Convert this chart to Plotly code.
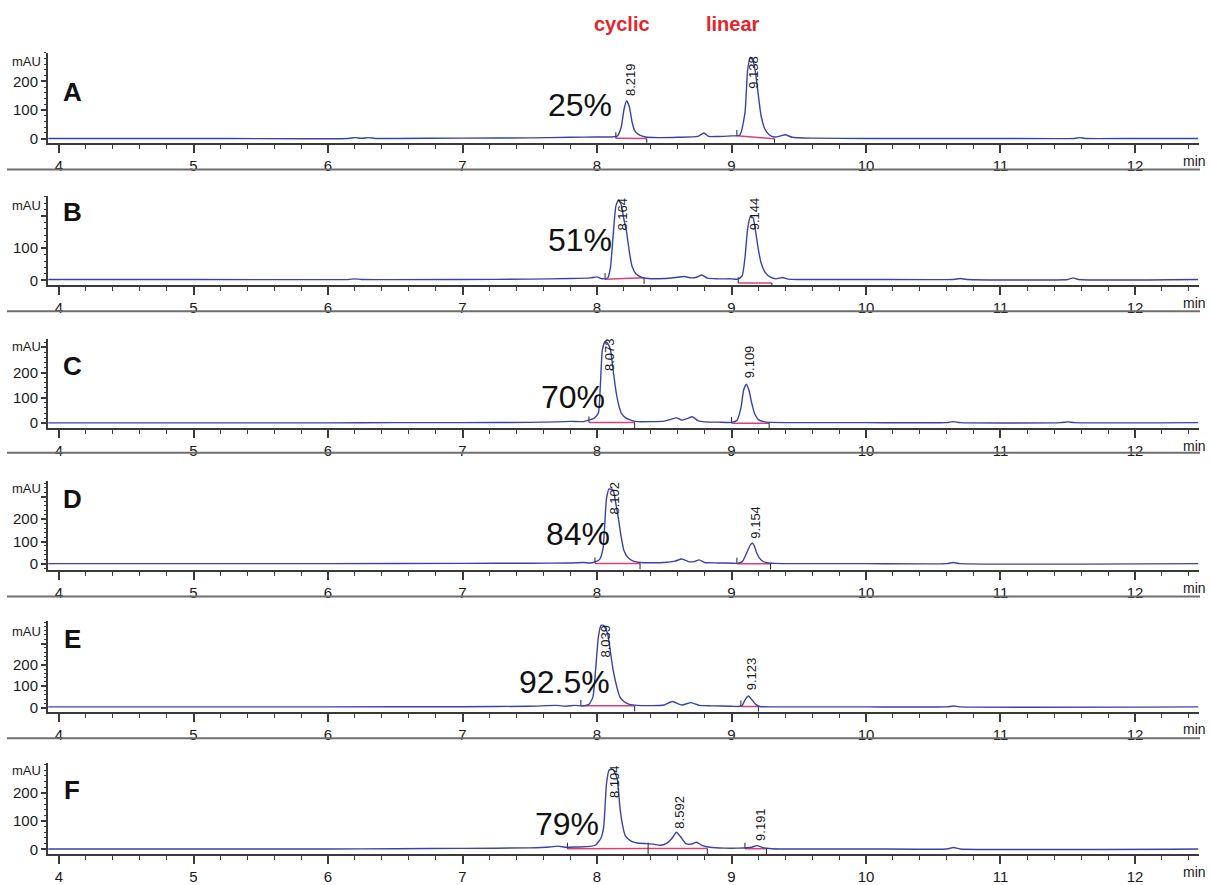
import plotly.graph_objects as go

W, H = 1210, 885
FONT = "Liberation Sans, Arial, sans-serif"

# ---------------- data (retention time in min, absorbance in mAU) ----------------
A_t = [3.92, 5.0, 6.15, 6.2, 6.25, 6.3, 6.35, 6.5, 7.0, 7.5, 7.8, 8.0, 8.10, 8.15, 8.18, 8.20, 8.22, 8.24, 8.26, 8.28,
       8.31, 8.36, 8.45, 8.6, 8.75, 8.795, 8.83, 8.9, 9.0, 9.06, 9.10, 9.12, 9.14, 9.16, 9.18, 9.20, 9.22, 9.25, 9.28, 9.32,
       9.36, 9.40, 9.45, 9.6, 10.0, 11.0, 11.55, 11.59, 11.63, 12.0, 12.47]
A_v = [1, 1, 1, 4, 1.5, 4, 1, 1, 2, 3, 5, 6, 6, 9, 40, 100, 132, 112, 60, 28,
       14, 6, 4, 5, 8, 20, 8, 8, 10, 12, 90, 240, 284, 272, 225, 150, 80, 32, 14, 6,
       9, 14, 5, 2, 1, 1, 1, 4, 1, 1, 1]

B_t = [3.92, 5.0, 6.15, 6.2, 6.25, 7.0, 7.5, 7.8, 7.95, 8.0, 8.03, 8.06, 8.08, 8.10, 8.12, 8.14, 8.16, 8.18, 8.20, 8.22,
       8.24, 8.26, 8.29, 8.33, 8.38, 8.5, 8.6, 8.65, 8.7, 8.74, 8.78, 8.82, 8.9, 9.0, 9.05, 9.08, 9.10, 9.12, 9.14, 9.16,
       9.18, 9.20, 9.22, 9.25, 9.29, 9.33, 9.38, 9.42, 9.5, 10.0, 10.65, 10.7, 10.75, 11.5, 11.54, 11.58, 12.47]
B_v = [3, 3, 3, 5, 3, 3, 4, 6, 8, 11, 6, 5, 8, 40, 140, 230, 250, 235, 190, 150,
       90, 45, 20, 10, 6, 6, 10, 12, 8, 10, 17, 7, 5, 5, 4, 15, 70, 160, 198, 195,
       150, 95, 55, 25, 10, 5, 9, 4, 3, 3, 3, 6, 3, 3, 8, 3, 3]

C_t = [3.92, 5.0, 6.0, 6.5, 7.0, 7.5, 7.7, 7.8, 7.9, 7.94, 7.98, 8.01, 8.025, 8.04, 8.06, 8.08, 8.10, 8.12, 8.14, 8.16,
       8.18, 8.21, 8.25, 8.30, 8.4, 8.5, 8.55, 8.59, 8.63, 8.67, 8.71, 8.75, 8.8, 8.9, 9.0, 9.04, 9.07, 9.09, 9.11, 9.13,
       9.15, 9.17, 9.20, 9.25, 9.3, 9.5, 10.0, 10.6, 10.65, 10.7, 11.45, 11.5, 11.55, 12.47]
C_v = [1, 1, 1, 2, 2, 3, 5, 7, 6, 12, 20, 40, 150, 290, 322, 315, 290, 210, 130, 75,
       40, 22, 12, 6, 6, 8, 15, 21, 12, 18, 25, 10, 5, 4, 3, 10, 60, 130, 154, 130,
       80, 40, 14, 5, 3, 2, 2, 2, 6, 2, 2, 5, 2, 2]

D_t = [3.92, 5.0, 6.0, 7.0, 7.5, 7.8, 7.9, 7.95, 7.99, 8.02, 8.045, 8.07, 8.09, 8.12, 8.14, 8.16, 8.18, 8.20, 8.23, 8.27,
       8.32, 8.4, 8.5, 8.58, 8.63, 8.68, 8.72, 8.76, 8.8, 8.9, 9.0, 9.04, 9.08, 9.11, 9.14, 9.155, 9.17, 9.19, 9.22, 9.26,
       9.32, 9.5, 10.0, 10.6, 10.65, 10.7, 12.47]
D_v = [1, 1, 1, 2, 3, 4, 6, 4, 10, 20, 70, 290, 336, 330, 270, 200, 120, 60, 28, 12,
       6, 5, 6, 12, 22, 10, 10, 18, 6, 4, 3, 2, 10, 45, 85, 92, 80, 45, 17, 5,
       2, 1, 1, 1, 6, 1, 1]

E_t = [3.92, 5.0, 6.0, 7.0, 7.5, 7.7, 7.77, 7.83, 7.90, 7.94, 7.97, 7.99, 8.01, 8.03, 8.05, 8.08, 8.10, 8.12, 8.15, 8.17,
       8.20, 8.24, 8.30, 8.4, 8.5, 8.56, 8.63, 8.70, 8.76, 8.85, 9.0, 9.05, 9.08, 9.10, 9.125, 9.15, 9.18, 9.21, 9.3, 9.5,
       10.0, 10.6, 10.65, 10.7, 12.47]
E_v = [3, 3, 3, 4, 6, 10, 6, 10, 8, 15, 50, 180, 330, 385, 385, 345, 260, 175, 90, 50,
       28, 15, 10, 9, 12, 28, 12, 23, 10, 8, 6, 5, 10, 35, 54, 38, 15, 5, 3, 3,
       3, 3, 7, 3, 3]

F_t = [3.92, 5.0, 6.0, 6.5, 7.0, 7.5, 7.65, 7.71, 7.77, 7.85, 7.95, 7.99, 8.03, 8.05, 8.07, 8.09, 8.12, 8.15, 8.17, 8.19,
       8.21, 8.25, 8.30, 8.37, 8.42, 8.47, 8.52, 8.56, 8.59, 8.62, 8.66, 8.70, 8.74, 8.78, 8.84, 8.95, 9.05, 9.15, 9.19, 9.23,
       9.3, 9.5, 10.0, 10.6, 10.65, 10.7, 12.47]
F_v = [1, 1, 1, 2, 3, 5, 8, 11, 7, 8, 10, 15, 40, 80, 230, 280, 282, 250, 150, 85,
       48, 30, 22, 20, 18, 14, 22, 40, 60, 45, 20, 18, 25, 14, 7, 4, 4, 7, 13, 6,
       2, 1, 1, 1, 6, 1, 1]

# panel letters and cyclic-product percentages
panel_letters = ["A", "B", "C", "D", "E", "F"]
percent_labels = ["25%", "51%", "70%", "84%", "92.5%", "79%"]

# labelled peaks: retention time labels
A_peaks = ["8.219", "9.138"]
B_peaks = ["8.164", "9.144"]
C_peaks = ["8.073", "9.109"]
D_peaks = ["8.102", "9.154"]
E_peaks = ["8.039", "9.123"]
F_peaks = ["8.104", "8.592", "9.191"]

# integration baselines: (start, end, level at start, level at end)
A_int = [(8.14, 8.37, 2, 1), (9.04, 9.32, 10, 0)]
B_int = [(8.06, 8.35, 4, 8), (9.05, 9.30, -8, -8)]
C_int = [(7.94, 8.28, 3, 3), (9.00, 9.28, 0, 0)]
D_int = [(7.985, 8.32, 2, 2), (9.04, 9.29, 1, 1)]
E_int = [(7.88, 8.28, 8, 8), (9.07, 9.20, 5, 5)]
F_int = [(7.78, 8.38, 2, 3), (8.38, 8.82, 3, 3), (9.10, 9.26, 2, 2)]

x_tick_vals = [4, 5, 6, 7, 8, 9, 10, 11, 12]

# ---------------- layout geometry (pixels) ----------------
X_LEFT, X_RIGHT = 48, 1199
X_RANGE = [3.918, 12.476]
PANEL_PX = [(53, 144), (198, 288), (342, 432), (485, 575), (627, 718), (770, 862)]
Y_RANGES = [[-13.8, 300], [-15.4, 261.5], [-19.6, 333], [-26.7, 373], [-18.6, 404], [-17.5, 305]]
Y_TICKS = [([0, 100, 200], ["0", "100", "200"]),
           ([0, 100, 200], ["0", "100", ""]),
           ([0, 100, 200, 300], ["0", "100", "200", ""]),
           ([0, 100, 200, 300], ["0", "100", "200", ""]),
           ([0, 100, 200, 300], ["0", "100", "200", ""]),
           ([0, 100, 200], ["0", "100", "200"])]
LETTER_Y = [93, 214, 369, 504, 645, 797]
MAU_Y = [62, 207, 350, 493, 637, 778]
SEP_Y = [171, 314, 457, 602, 745]
# percent label positions (data coords) and peak label positions (data coords)
PCT_POS = [(7.874, 117), (7.874, 126), (7.822, 102), (7.859, 133), (7.755, 121), (7.777, 91)]
PEAK_LABEL_Y = [[207, 231], [206, 206], [270, 243], [293, 187], [312, 158], [239, 133, 88]]

BLUE = "#3a42a8"
PINK = "#d9407a"
AXIS = "#3a3a3a"


def px(xp, yp):
    return xp / W, 1 - yp / H


series = [(A_t, A_v, A_peaks, A_int), (B_t, B_v, B_peaks, B_int), (C_t, C_v, C_peaks, C_int),
          (D_t, D_v, D_peaks, D_int), (E_t, E_v, E_peaks, E_int), (F_t, F_v, F_peaks, F_int)]

fig = go.Figure()
annotations = []
shapes = []
layout_axes = {}

for i, (t, v, peaks, ints) in enumerate(series):
    n = i + 1
    xa = "x" if n == 1 else f"x{n}"
    ya = "y" if n == 1 else f"y{n}"
    xkey = "xaxis" if n == 1 else f"xaxis{n}"
    ykey = "yaxis" if n == 1 else f"yaxis{n}"
    top, bot = PANEL_PX[i]
    yr = Y_RANGES[i]
    units_per_px = (yr[1] - yr[0]) / (bot - top)
    mark = 6 * units_per_px

    # integration baselines
    bx, by, mx, my = [], [], [], []
    for (s, e, ls, le) in ints:
        bx += [s, e, None]
        by += [ls, le, None]
        mx += [s, s, None, e, e, None]
        my += [ls, ls + mark, None, le, le - mark, None]
    fig.add_trace(go.Scatter(x=bx, y=by, mode="lines", line=dict(color=PINK, width=1.5),
                             xaxis=xa, yaxis=ya, hoverinfo="skip", showlegend=False))
    fig.add_trace(go.Scatter(x=mx, y=my, mode="lines", line=dict(color="#222222", width=1),
                             xaxis=xa, yaxis=ya, hoverinfo="skip", showlegend=False))
    # chromatogram
    fig.add_trace(go.Scatter(x=t, y=v, mode="lines", line=dict(color=BLUE, width=1.4, shape="spline", smoothing=0.5),
                             xaxis=xa, yaxis=ya, showlegend=False))

    layout_axes[xkey] = dict(domain=[X_LEFT / W, X_RIGHT / W], range=X_RANGE, anchor=ya,
                             showline=True, linecolor=AXIS, linewidth=2, showgrid=False, zeroline=False,
                             ticks="outside", ticklen=8, tickwidth=1.5, tickcolor=AXIS,
                             tickmode="array", tickvals=x_tick_vals,
                             minor=dict(dtick=0.2, tick0=0, ticks="outside", ticklen=4, tickwidth=1.2, tickcolor=AXIS),
                             tickfont=dict(family=FONT, size=15, color="#1a1a1a"), fixedrange=True)
    tv, tt = Y_TICKS[i]
    layout_axes[ykey] = dict(domain=[1 - bot / H, 1 - top / H], range=yr, anchor=xa,
                             showline=True, linecolor=AXIS, linewidth=2, showgrid=False, zeroline=False,
                             ticks="outside", ticklen=5, tickwidth=1.5, tickcolor=AXIS,
                             tickmode="array", tickvals=tv, ticktext=tt,
                             minor=dict(dtick=20, tick0=0, ticks="outside", ticklen=2.5, tickwidth=1, tickcolor=AXIS),
                             tickfont=dict(family=FONT, size=15, color="#1a1a1a"), fixedrange=True)

    # panel letter
    lx, ly = px(72, LETTER_Y[i])
    annotations.append(dict(x=lx, y=ly, xref="paper", yref="paper", text=f"<b>{panel_letters[i]}</b>",
                            showarrow=False, xanchor="center", yanchor="middle",
                            font=dict(family=FONT, size=26, color="#111111")))
    # mAU
    mxp, myp = px(43, MAU_Y[i])
    annotations.append(dict(x=mxp, y=myp, xref="paper", yref="paper", text="mAU", showarrow=False,
                            xanchor="right", yanchor="middle", font=dict(family=FONT, size=13, color="#1a1a1a")))
    # min
    nx, ny = px(1194, bot + 18)
    annotations.append(dict(x=nx, y=ny, xref="paper", yref="paper", text="min", showarrow=False,
                            xanchor="center", yanchor="middle", font=dict(family=FONT, size=14, color="#1a1a1a")))
    # percentage
    pxv, pyv = PCT_POS[i]
    annotations.append(dict(x=pxv, y=pyv, xref=xa, yref=ya, text=percent_labels[i], showarrow=False,
                            xanchor="center", yanchor="middle", font=dict(family=FONT, size=32, color="#111111")))
    # peak labels
    for lab, ly_d in zip(peaks, PEAK_LABEL_Y[i]):
        annotations.append(dict(x=float(lab) + 0.025, y=ly_d, xref=xa, yref=ya, text=lab, showarrow=False,
                                textangle=-90, xanchor="center", yanchor="middle",
                                font=dict(family=FONT, size=13, color="#1a1a1a")))

# separators
for sy in SEP_Y:
    shapes.append(dict(type="line", xref="paper", yref="paper", x0=7 / W, x1=1200 / W,
                       y0=1 - sy / H, y1=1 - sy / H, line=dict(color="#6e6e6e", width=2)))

# header labels
for text, xp in [("cyclic", 622), ("linear", 733)]:
    hx, hy = px(xp, 24)
    annotations.append(dict(x=hx, y=hy, xref="paper", yref="paper", text=f"<b>{text}</b>", showarrow=False,
                            xanchor="center", yanchor="middle", font=dict(family=FONT, size=20, color="#e3262b")))

fig.update_layout(width=W, height=H, margin=dict(l=0, r=0, t=0, b=0), autosize=False,
                  paper_bgcolor="white", plot_bgcolor="white", showlegend=False,
                  annotations=annotations, shapes=shapes, **layout_axes)

fig.write_html("out.html", config={"displayModeBar": False})
